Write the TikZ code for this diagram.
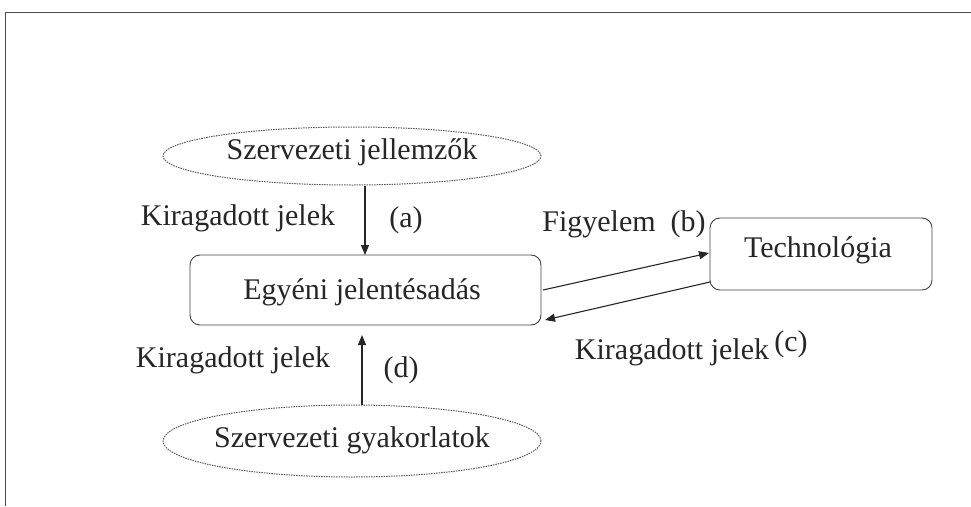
\documentclass[tikz,border=0pt]{standalone}
\usepackage{fontspec}
\setmainfont{Liberation Serif}
\usetikzlibrary{shapes.geometric,arrows.meta}
\begin{document}
\begin{tikzpicture}[x=1pt,y=-1pt,
  lbl/.style={font=\fontsize{30}{34}\selectfont, inner sep=0pt, text=black!85},
  ell/.style={draw=black!65, dash pattern=on 1.5pt off 1pt, line width=1pt, ellipse, minimum width=378pt, minimum height=#1, inner sep=0pt},
  rbox/.style={draw=black!75, line width=0.9pt, rounded corners=10pt},
  arr/.style={draw=black!85, line width=1.1pt, -{Triangle[length=10pt,width=8pt]}}
]
\useasboundingbox (0,0) rectangle (971,506);
\draw[black!70, line width=1pt] (5,506) -- (5,12) -- (971,12);
% nodes
\node[ell=58pt] (top) at (352,156) {};
\node[lbl] at (352,152) {Szervezeti jellemzők};
\node[ell=72pt] (bot) at (352,441) {};
\node[lbl] at (352,440) {Szervezeti gyakorlatok};
\draw[rbox] (190,255) rectangle (541,325);
\node[lbl] (ego) at (362,292) {Egyéni jelentésadás};
\draw[rbox] (710,218) rectangle (932,290);
\node[lbl] (tech) at (818,250) {Technológia};
\coordinate (a1) at (365,186);
\coordinate (a2) at (365,255);
\coordinate (d1) at (362,405);
\coordinate (d2) at (362,335);
\coordinate (b1) at (543,290);
\coordinate (b2) at (709,253);
\coordinate (c1) at (710,282);
\coordinate (c2) at (545,320);
\draw[arr] (a1) -- (a2);
\draw[arr] (d1) -- (d2);
\draw[arr] (b1) -- (b2);
\draw[arr] (c1) -- (c2);
% labels
\node[lbl] (la) at (238,218) {Kiragadott jelek};
\node[lbl] (a) at (406,220) {(a)};
\node[lbl] (lb) at (624,224) {Figyelem\ \ (b)};
\node[lbl] (lc) at (672,352) {Kiragadott jelek};
\node[lbl] (c) at (791,344) {(c)};
\node[lbl] (ld) at (233,360) {Kiragadott jelek};
\node[lbl] (d) at (401,370) {(d)};
\end{tikzpicture}
\end{document}
